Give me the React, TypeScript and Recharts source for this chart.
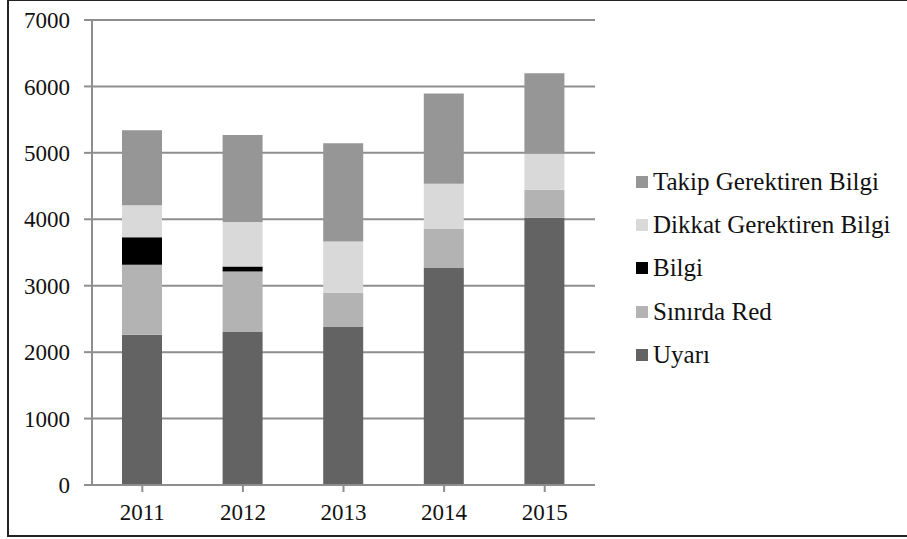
import React from "react";
import { Bar, BarChart, CartesianGrid, XAxis, YAxis } from "recharts";

const years = ["2011", "2012", "2013", "2014", "2015"];
const uyari = [2260, 2310, 2380, 3275, 4025];
const sinirdaRed = [1055, 905, 515, 585, 420];
const bilgi = [415, 75, 0, 0, 0];
const dikkat = [480, 670, 770, 675, 540];
const takip = [1130, 1310, 1480, 1360, 1215];
const yTicks = [0, 1000, 2000, 3000, 4000, 5000, 6000, 7000];

const series = [
  { key: "uyari", name: "Uyarı", color: "#636363" },
  { key: "sinirdaRed", name: "Sınırda Red", color: "#b3b3b3" },
  { key: "bilgi", name: "Bilgi", color: "#000000" },
  { key: "dikkat", name: "Dikkat Gerektiren Bilgi", color: "#d9d9d9" },
  { key: "takip", name: "Takip Gerektiren Bilgi", color: "#969696" },
];

const data = years.map((year, i) => ({
  year,
  uyari: uyari[i],
  sinirdaRed: sinirdaRed[i],
  bilgi: bilgi[i],
  dikkat: dikkat[i],
  takip: takip[i],
}));

const font = '"Liberation Serif", "Times New Roman", serif';
const gridColor = "#8e8e8e";

function LegendBox() {
  // legend lists the stack top-down, like the original
  return (
    <div
      style={{
        position: "absolute",
        left: 636,
        top: 160,
        fontFamily: font,
        fontSize: 25,
        color: "#111",
      }}
    >
      {[...series].reverse().map((s) => (
        <div
          key={s.key}
          style={{ display: "flex", alignItems: "center", height: 43.3 }}
        >
          <span
            style={{
              width: 12,
              height: 12,
              background: s.color,
              marginRight: 5,
              display: "inline-block",
            }}
          />
          <span>{s.name}</span>
        </div>
      ))}
    </div>
  );
}

export default function App() {
  return (
    <div
      style={{
        position: "absolute",
        left: 0,
        top: 0,
        width: 907,
        height: 539,
        background: "white",
        overflow: "hidden",
      }}
    >
      <div
        style={{
          position: "absolute",
          left: 7,
          top: -1,
          width: 910,
          height: 538,
          border: "2px solid #222",
          boxSizing: "border-box",
        }}
      />
      <BarChart
        width={907}
        height={539}
        data={data}
        barSize={40}
        margin={{ top: 20, right: 312, left: 0, bottom: 0 }}
        style={{ position: "absolute", left: 0, top: 0 }}
      >
        <CartesianGrid vertical={false} stroke={gridColor} strokeWidth={2} />
        <XAxis
          dataKey="year"
          height={54}
          interval={0}
          axisLine={{ stroke: gridColor, strokeWidth: 2 }}
          tickLine={{ stroke: gridColor, strokeWidth: 2 }}
          tickSize={7}
          tickMargin={12}
          tick={{ fontFamily: font, fontSize: 23, fill: "#111" }}
        />
        <YAxis
          width={92}
          domain={[0, 7000]}
          ticks={yTicks}
          interval={0}
          axisLine={{ stroke: gridColor, strokeWidth: 2 }}
          tickLine={{ stroke: gridColor, strokeWidth: 2 }}
          tickSize={8}
          tickMargin={14}
          tick={{ fontFamily: font, fontSize: 23, fill: "#111" }}
        />
        {series.map((s) => (
          <Bar
            key={s.key}
            dataKey={s.key}
            name={s.name}
            stackId="a"
            fill={s.color}
            isAnimationActive={false}
          />
        ))}
      </BarChart>
      <LegendBox />
    </div>
  );
}
